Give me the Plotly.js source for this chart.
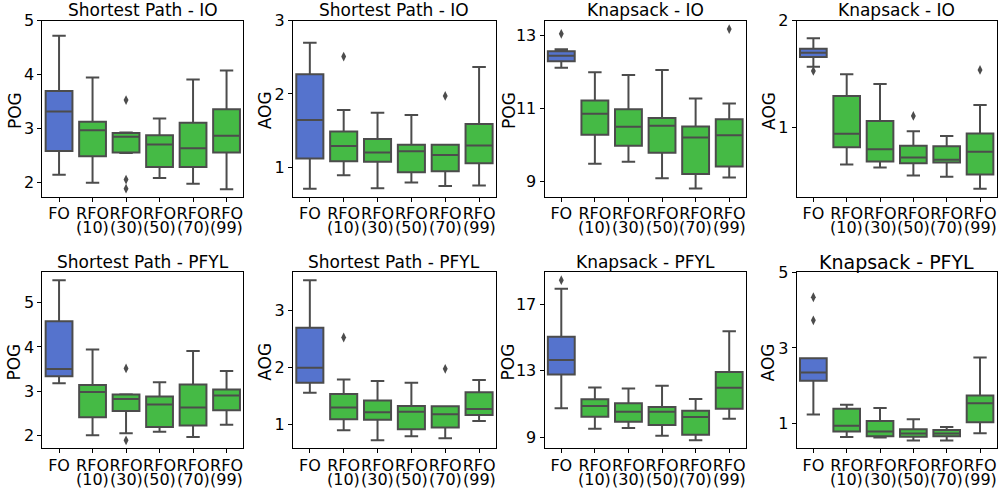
<!DOCTYPE html>
<html>
<head>
<meta charset="utf-8">
<script src="https://cdn.plot.ly/plotly-3.0.1.min.js"></script>
<style>
html,body{margin:0;padding:0;background:#fff;}
#chart{width:998px;height:489px;}
</style>
</head>
<body>
<div id="chart"></div>
<script>
// ---------- categories & labels ----------
const categories = ["FO", "RFO (10)", "RFO (30)", "RFO (50)", "RFO (70)", "RFO (99)"];
const tickLine1 = ["FO", "RFO", "RFO", "RFO", "RFO", "RFO"];
const tickLine2 = ["", "(10)", "(30)", "(50)", "(70)", "(99)"];
const panelTitles = ["Shortest Path - IO", "Shortest Path - IO", "Knapsack - IO", "Knapsack - IO",
                     "Shortest Path - PFYL", "Shortest Path - PFYL", "Knapsack - PFYL", "Knapsack - PFYL"];
const yLabels = ["POG", "AOG", "POG", "AOG", "POG", "AOG", "POG", "AOG"];
const yTickVals = [[2, 3, 4, 5], [1, 2, 3], [9, 11, 13], [1, 2], [2, 3, 4, 5], [1, 2, 3], [9, 13, 17], [1, 3, 5]];
const yRanges = [[1.746, 5.0], [0.6, 3.0], [8.59, 13.41], [0.355, 2.0], [1.706, 5.70], [0.573, 3.673], [8.34, 18.94], [0.347, 5.01]];

// ---------- panel 1 : Shortest Path - IO, POG ----------
const p1Lower  = [2.15, 2.00, 2.55, 2.09, 1.98, 1.88];
const p1Q1     = [2.59, 2.49, 2.56, 2.29, 2.29, 2.56];
const p1Median = [3.32, 2.97, 2.85, 2.71, 2.64, 2.87];
const p1Q3     = [3.70, 3.13, 2.92, 2.88, 3.11, 3.36];
const p1Upper  = [4.72, 3.95, 2.93, 3.19, 3.91, 4.08];
const p1OutCat = [2, 2, 2];
const p1OutVal = [3.53, 2.06, 1.89];

// ---------- panel 2 : Shortest Path - IO, AOG ----------
const p2Lower  = [0.705, 0.89, 0.714, 0.79, 0.745, 0.75];
const p2Q1     = [1.118, 1.082, 1.073, 0.932, 0.945, 1.055];
const p2Median = [1.645, 1.29, 1.20, 1.218, 1.168, 1.295];
const p2Q3     = [2.27, 1.486, 1.386, 1.305, 1.305, 1.59];
const p2Upper  = [2.70, 1.78, 1.745, 1.714, 1.305, 2.368];
const p2OutCat = [1, 4];
const p2OutVal = [2.51, 1.973];

// ---------- panel 3 : Knapsack - IO, POG ----------
const p3Lower  = [12.12, 9.49, 9.54, 9.09, 8.81, 9.11];
const p3Q1     = [12.30, 10.28, 9.98, 9.79, 9.21, 9.41];
const p3Median = [12.45, 10.86, 10.50, 10.53, 10.21, 10.27];
const p3Q3     = [12.57, 11.22, 10.98, 10.74, 10.51, 10.71];
const p3Upper  = [12.63, 12.00, 11.92, 12.06, 11.28, 11.14];
const p3OutCat = [0, 5];
const p3OutVal = [13.05, 13.18];

// ---------- panel 4 : Knapsack - IO, AOG ----------
const p4Lower  = [1.57, 0.654, 0.626, 0.551, 0.539, 0.427];
const p4Q1     = [1.66, 0.816, 0.682, 0.667, 0.673, 0.561];
const p4Median = [1.70, 0.941, 0.798, 0.72, 0.698, 0.773];
const p4Q3     = [1.738, 1.296, 1.062, 0.829, 0.826, 0.944];
const p4Upper  = [1.835, 1.50, 1.408, 0.966, 0.922, 1.212];
const p4OutCat = [0, 3, 5];
const p4OutVal = [1.53, 1.109, 1.539];

// ---------- panel 5 : Shortest Path - PFYL, POG ----------
const p5Lower  = [3.18, 2.00, 2.045, 2.08, 1.96, 2.24];
const p5Q1     = [3.34, 2.41, 2.55, 2.19, 2.22, 2.57];
const p5Median = [3.50, 2.98, 2.82, 2.70, 2.63, 2.90];
const p5Q3     = [4.585, 3.14, 2.925, 2.88, 3.15, 3.04];
const p5Upper  = [5.51, 3.945, 2.93, 3.20, 3.91, 3.455];
const p5OutCat = [2, 2];
const p5OutVal = [3.515, 1.887];

// ---------- panel 6 : Shortest Path - PFYL, AOG ----------
const p6Lower  = [1.55, 0.889, 0.713, 0.784, 0.749, 1.053];
const p6Q1     = [1.725, 1.082, 1.076, 0.906, 0.94, 1.158];
const p6Median = [1.988, 1.292, 1.205, 1.216, 1.17, 1.263];
const p6Q3     = [2.69, 1.526, 1.415, 1.316, 1.31, 1.556];
const p6Upper  = [3.526, 1.784, 1.754, 1.725, 1.31, 1.772];
const p6OutCat = [1, 4];
const p6OutVal = [2.52, 1.97];

// ---------- panel 7 : Knapsack - PFYL, POG ----------
const p7Lower  = [10.74, 9.52, 9.56, 9.10, 8.82, 10.12];
const p7Q1     = [12.78, 10.24, 9.94, 9.74, 9.16, 10.72];
const p7Median = [13.64, 10.88, 10.54, 10.54, 10.22, 11.98];
const p7Q3     = [15.04, 11.28, 11.04, 10.82, 10.60, 12.92];
const p7Upper  = [17.92, 12.00, 11.94, 12.10, 11.30, 15.38];
const p7OutCat = [0];
const p7OutVal = [18.44];

// ---------- panel 8 : Knapsack - PFYL, AOG ----------
const p8Lower  = [1.24, 0.647, 0.63, 0.55, 0.55, 0.744];
const p8Q1     = [2.13, 0.79, 0.665, 0.655, 0.665, 1.035];
const p8Median = [2.35, 0.94, 0.79, 0.735, 0.735, 1.54];
const p8Q3     = [2.73, 1.39, 1.07, 0.85, 0.832, 1.74];
const p8Upper  = [2.73, 1.495, 1.41, 1.115, 0.912, 2.75];
const p8OutCat = [0, 0];
const p8OutVal = [4.34, 3.73];

// ---------- build ----------
const panels = [
  [p1Lower, p1Q1, p1Median, p1Q3, p1Upper, p1OutCat, p1OutVal],
  [p2Lower, p2Q1, p2Median, p2Q3, p2Upper, p2OutCat, p2OutVal],
  [p3Lower, p3Q1, p3Median, p3Q3, p3Upper, p3OutCat, p3OutVal],
  [p4Lower, p4Q1, p4Median, p4Q3, p4Upper, p4OutCat, p4OutVal],
  [p5Lower, p5Q1, p5Median, p5Q3, p5Upper, p5OutCat, p5OutVal],
  [p6Lower, p6Q1, p6Median, p6Q3, p6Upper, p6OutCat, p6OutVal],
  [p7Lower, p7Q1, p7Median, p7Q3, p7Upper, p7OutCat, p7OutVal],
  [p8Lower, p8Q1, p8Median, p8Q3, p8Upper, p8OutCat, p8OutVal]
];

const W = 998, H = 489;
const colPx = [[42.3, 243.3], [292.9, 496], [544.5, 746], [796.7, 996.7]];
const rowPx = [[20.7, 196.5], [271.9, 448.3]];
const titleCenterPx = [9.9, 261.6];
const yTitleXPx = [14.5, 264.7, 508.3, 768.3];
const line2OffsetPx = 31;

const FONT = "DejaVu Sans";
const LINE = "#4c4c4c";
const BLUE = "rgb(85,115,205)";
const GREEN = "rgb(69,186,69)";

const traces = [];
const layout = {
  width: W, height: H,
  margin: {l: 0, r: 0, t: 0, b: 0},
  paper_bgcolor: "#fff", plot_bgcolor: "#fff",
  showlegend: false,
  boxmode: "overlay",
  font: {family: FONT, size: 16, color: "#000"},
  annotations: []
};

function pick(arr, idx) { return idx.map(i => arr[i]); }

panels.forEach((p, i) => {
  const [lo, q1, med, q3, hi, oc, ov] = p;
  const r = Math.floor(i / 4), c = i % 4;
  const n = i + 1;
  const xa = "x" + (n === 1 ? "" : n), ya = "y" + (n === 1 ? "" : n);
  const groups = [[[0], BLUE], [[1, 2, 3, 4, 5], GREEN]];
  groups.forEach(([idx, col]) => {
    traces.push({
      type: "box", xaxis: xa, yaxis: ya,
      x: pick(categories, idx),
      q1: pick(q1, idx), median: pick(med, idx), q3: pick(q3, idx),
      lowerfence: pick(lo, idx), upperfence: pick(hi, idx),
      fillcolor: col, line: {color: LINE, width: 2},
      width: 0.8, whiskerwidth: 0.5, boxpoints: false,
      hoverinfo: "skip"
    });
  });
  traces.push({
    type: "scatter", mode: "markers", xaxis: xa, yaxis: ya,
    x: oc.map(k => categories[k]), y: ov,
    marker: {symbol: "diamond-tall", size: 7, color: LINE},
    hoverinfo: "skip", cliponaxis: false
  });

  const xd = [colPx[c][0] / W, colPx[c][1] / W];
  const yd = [1 - rowPx[r][1] / H, 1 - rowPx[r][0] / H];
  layout["xaxis" + (n === 1 ? "" : n)] = {
    domain: xd, anchor: ya, type: "category",
    categoryorder: "array", categoryarray: categories,
    tickvals: categories, ticktext: tickLine1,
    range: [-0.5, 5.5], fixedrange: true, tickangle: 0,
    showline: true, mirror: true, linecolor: "#000", linewidth: 1,
    ticks: "outside", ticklen: 4, tickwidth: 1, tickcolor: "#000",
    ticklabelstandoff: -2,
    showgrid: false, zeroline: false,
    tickfont: {family: FONT, size: 16, color: "#000"}
  };
  layout["yaxis" + (n === 1 ? "" : n)] = {
    domain: yd, anchor: xa, range: yRanges[i], fixedrange: true,
    tickvals: yTickVals[i], ticktext: yTickVals[i].map(String),
    showline: true, mirror: true, linecolor: "#000", linewidth: 1,
    ticks: "outside", ticklen: 4, tickwidth: 1, tickcolor: "#000",
    showgrid: false, zeroline: false,
    tickfont: {family: FONT, size: 16, color: "#000"}
  };
  // second line of the category labels, placed on the category scale
  categories.forEach((cat, k) => {
    if (!tickLine2[k]) return;
    layout.annotations.push({
      text: tickLine2[k], xref: xa, yref: "paper",
      x: cat, y: 1 - (rowPx[r][1] + line2OffsetPx) / H,
      xanchor: "center", yanchor: "middle", showarrow: false, borderpad: 0,
      font: {family: FONT, size: 16, color: "#000"}
    });
  });
  // subplot title
  layout.annotations.push({
    text: panelTitles[i], xref: "paper", yref: "paper",
    x: (xd[0] + xd[1]) / 2, y: 1 - titleCenterPx[r] / H,
    xanchor: "center", yanchor: "middle", showarrow: false,
    font: {family: FONT, size: (i === 7 ? 19 : 17), color: "#000"}
  });
  // y-axis title
  layout.annotations.push({
    text: yLabels[i], xref: "paper", yref: "paper",
    x: yTitleXPx[c] / W, y: (yd[0] + yd[1]) / 2 - 2 / H,
    xanchor: "center", yanchor: "middle", textangle: -90, showarrow: false,
    font: {family: FONT, size: 17, color: "#000"}
  });
});

Plotly.newPlot("chart", traces, layout, {staticPlot: true, displayModeBar: false});
</script>
</body>
</html>
